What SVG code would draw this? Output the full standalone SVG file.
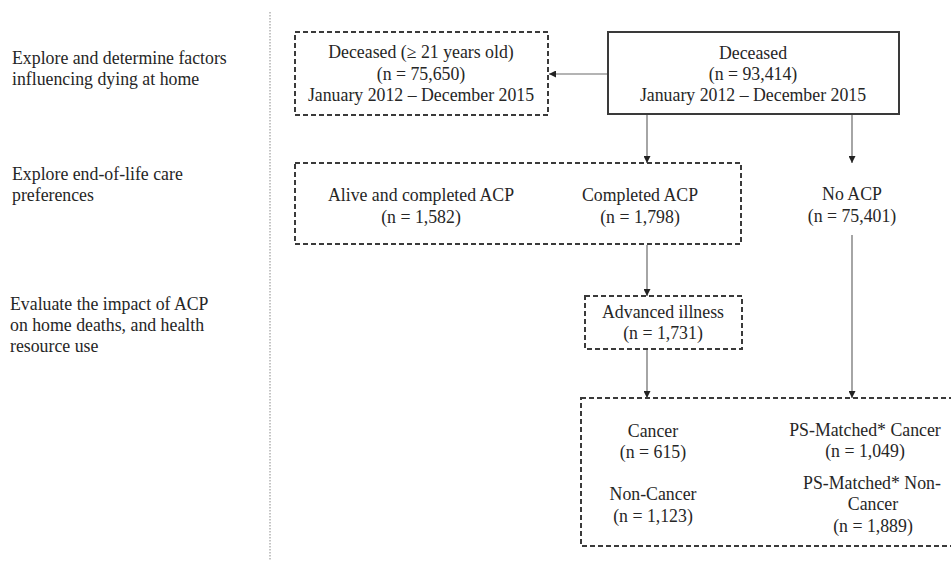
<svg xmlns="http://www.w3.org/2000/svg" width="951" height="563" viewBox="0 0 951 563">
  <style>
    text { font-family: "Liberation Serif", "Times New Roman", serif; font-size: 17.8px; fill: #262626; }
    .c { text-anchor: middle; }
    .solid { fill: #fff; stroke: #3a3a3a; stroke-width: 2; }
    .dash { fill: none; stroke: #3a3a3a; stroke-width: 2; stroke-dasharray: 5 3; }
    .link { fill: none; stroke: #6a6a6a; stroke-width: 1.2; marker-end: url(#head); }
    .divider { stroke: #8a8a8a; stroke-width: 1; stroke-dasharray: 1.5 1.5; }
  </style>
  <defs>
    <marker id="head" viewBox="0 0 10 10" refX="10" refY="5" markerWidth="7" markerHeight="7" markerUnits="userSpaceOnUse" orient="auto">
      <path d="M0,0 L10,5 L0,10 z" fill="#222"/>
    </marker>
  </defs>
  <rect width="951" height="563" fill="#fff"/>

  <!-- study aims column -->
  <g id="aims">
    <text x="12" y="64">Explore and determine factors</text>
    <text x="12" y="85">influencing dying at home</text>
    <text x="12" y="180">Explore end-of-life care</text>
    <text x="12" y="201">preferences</text>
    <text x="10" y="310">Evaluate the impact of ACP</text>
    <text x="10" y="331">on home deaths, and health</text>
    <text x="10" y="352">resource use</text>
  </g>

  <line class="divider" x1="270" y1="12" x2="270" y2="560"/>

  <!-- connectors -->
  <g id="connectors">
    <line class="link" x1="608" y1="74" x2="549" y2="74"/>
    <line class="link" x1="647" y1="115" x2="647" y2="163"/>
    <line class="link" x1="852" y1="115" x2="852" y2="163"/>
    <line class="link" x1="647" y1="245" x2="647" y2="296"/>
    <line class="link" x1="647" y1="350" x2="647" y2="398"/>
    <line class="link" x1="852" y1="235" x2="852" y2="398"/>
  </g>

  <g id="deceased-adults">
    <rect class="dash" x="295" y="32" width="253" height="83"/>
    <text class="c" x="421" y="58">Deceased (≥ 21 years old)</text>
    <text class="c" x="421" y="80">(n = 75,650)</text>
    <text class="c" x="421" y="101">January 2012 – December 2015</text>
  </g>

  <g id="deceased">
    <rect class="solid" x="608" y="32" width="291" height="82"/>
    <text class="c" x="753" y="59">Deceased</text>
    <text class="c" x="753" y="80">(n = 93,414)</text>
    <text class="c" x="753" y="101">January 2012 – December 2015</text>
  </g>

  <g id="acp">
    <rect class="dash" x="295" y="163" width="446" height="81"/>
    <text class="c" x="421" y="201">Alive and completed ACP</text>
    <text class="c" x="421" y="223">(n = 1,582)</text>
    <text class="c" x="640" y="201">Completed ACP</text>
    <text class="c" x="640" y="223">(n = 1,798)</text>
  </g>

  <g id="no-acp">
    <text class="c" x="852" y="200">No ACP</text>
    <text class="c" x="852" y="222">(n = 75,401)</text>
  </g>

  <g id="advanced-illness">
    <rect class="dash" x="585" y="296" width="157" height="53"/>
    <text class="c" x="663" y="318">Advanced illness</text>
    <text class="c" x="663" y="339">(n = 1,731)</text>
  </g>

  <g id="cohorts">
    <rect class="dash" x="581" y="398" width="373" height="148"/>
    <text class="c" x="653" y="437">Cancer</text>
    <text class="c" x="653" y="458">(n = 615)</text>
    <text class="c" x="653" y="500">Non-Cancer</text>
    <text class="c" x="653" y="522">(n = 1,123)</text>
    <text class="c" x="865" y="436">PS-Matched* Cancer</text>
    <text class="c" x="865" y="457">(n = 1,049)</text>
    <text class="c" x="872" y="489">PS-Matched* Non-</text>
    <text class="c" x="873" y="510">Cancer</text>
    <text class="c" x="873" y="532">(n = 1,889)</text>
  </g>
</svg>
